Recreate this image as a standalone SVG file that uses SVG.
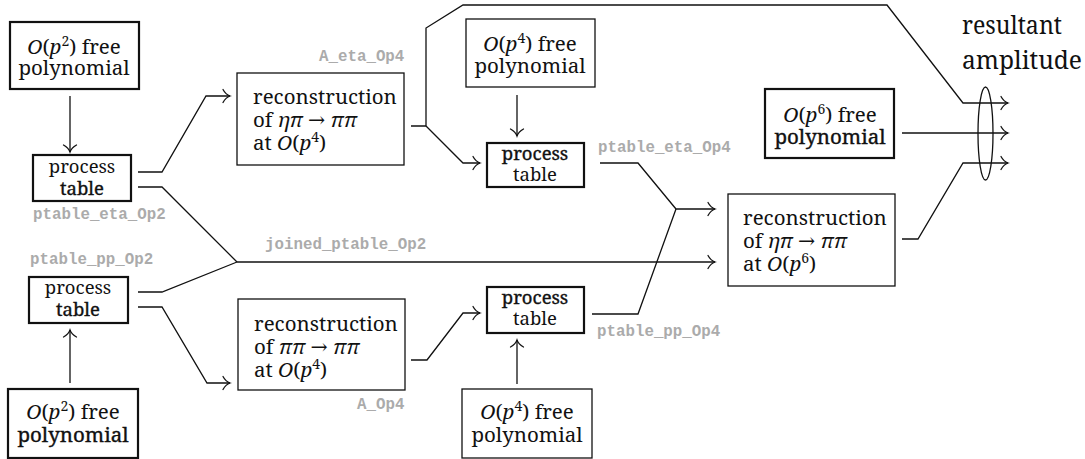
<svg xmlns="http://www.w3.org/2000/svg" width="1085" height="459" viewBox="0 0 1085 459">
  <style>
    .box { fill: #fff; stroke: #111; stroke-width: 1.3; }
    .box.thick { stroke-width: 2.2; }
    .t { font-family: 'Noto Serif', 'DejaVu Serif', serif; font-size: 20.5px; fill: #111; }
    .pt { font-size: 18.5px; }
    .c { text-anchor: middle; }
    .i { font-style: italic; }
    .sup { font-size: 14px; }
    .heavy { stroke: #111; stroke-width: 0.35; }
    .big { font-size: 25px; }
    .lbl { font-family: 'Liberation Mono', 'Courier New', monospace; font-weight: bold; font-size: 15.8px; fill: #ababab; }
    .wire { fill: none; stroke: #111; stroke-width: 1.3; }
  </style>
  <defs>
    <marker id="to" markerUnits="userSpaceOnUse" viewBox="-10 -8 12 16" refX="0" refY="0" markerWidth="12" markerHeight="16" orient="auto" overflow="visible">
      <path d="M -7 -6.5 C -5 -2.8 -2 -0.7 0 0 C -2 0.7 -5 2.8 -7 6.5" fill="none" stroke="#111" stroke-width="1.3" stroke-linecap="round"/>
    </marker>
  </defs>

  <rect width="1085" height="459" fill="#fff"/>

  <!-- connectors -->
  <g id="connectors" class="wire">
    <path d="M 70 96 L 70 152" marker-end="url(#to)"/>
    <path d="M 70 383 L 70 330" marker-end="url(#to)"/>
    <path d="M 138 172 L 162 172 L 206 96 L 230 96" marker-end="url(#to)"/>
    <path d="M 138 187 L 162 187 L 237 262"/>
    <path d="M 138 292 L 162 292 L 237 262"/>
    <path d="M 237 262 L 715 262" marker-end="url(#to)"/>
    <path d="M 138 307 L 162 307 L 207 383 L 230 383" marker-end="url(#to)"/>
    <path d="M 411 126 L 426 126 L 426 28 L 463 5 L 887 5 L 963 103 L 1008 103" marker-end="url(#to)"/>
    <path d="M 426 126 L 463 163 L 480 163" marker-end="url(#to)"/>
    <path d="M 517 95 L 517 136" marker-end="url(#to)"/>
    <path d="M 517 384 L 517 340" marker-end="url(#to)"/>
    <path d="M 411 360 L 427 360 L 463 313 L 480 313" marker-end="url(#to)"/>
    <path d="M 600 163 L 638 163 L 676 209 L 715 209" marker-end="url(#to)"/>
    <path d="M 592 314 L 638 314 L 676 209"/>
    <path d="M 902 133 L 1008 133" marker-end="url(#to)"/>
    <path d="M 902 239 L 918 239 L 963 163 L 1008 163" marker-end="url(#to)"/>
    <ellipse cx="985.5" cy="133.5" rx="7.5" ry="46.5"/>
  </g>

  <!-- O(p^2) polynomial, top -->
  <g id="poly2-top">
    <rect class="box thick" x="10" y="22" width="129" height="67"/>
    <text class="t c" x="74" y="54"><tspan class="i">O</tspan>(<tspan class="i">p</tspan><tspan class="sup" dy="-8">2</tspan><tspan dy="8">) free</tspan></text>
    <text class="t c" x="74" y="75">polynomial</text>
  </g>

  <!-- process table for eta pi, O(p^2) -->
  <g id="ptable-eta-op2">
    <rect class="box thick" x="33" y="155" width="98" height="46"/>
    <text class="t pt c" x="82" y="173">process</text>
    <text class="t pt c heavy" x="82" y="195">table</text>
    <text class="lbl" x="33" y="219">ptable_eta_Op2</text>
  </g>

  <!-- process table for pi pi, O(p^2) -->
  <g id="ptable-pp-op2">
    <text class="lbl" x="30" y="264">ptable_pp_Op2</text>
    <rect class="box thick" x="29" y="277" width="99" height="46"/>
    <text class="t pt c" x="78" y="294">process</text>
    <text class="t pt c heavy" x="78" y="316">table</text>
  </g>

  <!-- O(p^2) polynomial, bottom -->
  <g id="poly2-bottom">
    <rect class="box thick" x="8" y="389" width="130" height="69"/>
    <text class="t c" x="73" y="419"><tspan class="i">O</tspan>(<tspan class="i">p</tspan><tspan class="sup" dy="-8">2</tspan><tspan dy="8">) free</tspan></text>
    <text class="t c heavy" x="73" y="442">polynomial</text>
  </g>

  <!-- reconstruction eta pi -> pi pi at O(p^4) -->
  <g id="recon-eta-op4">
    <text class="lbl" x="319" y="61">A_eta_Op4</text>
    <rect class="box" x="237" y="73" width="167" height="92"/>
    <text class="t" x="253" y="104">reconstruction</text>
    <text class="t" x="253" y="127">of <tspan class="i">ηπ</tspan> → <tspan class="i">ππ</tspan></text>
    <text class="t" x="253" y="150">at <tspan class="i">O</tspan>(<tspan class="i">p</tspan><tspan class="sup" dy="-8">4</tspan><tspan dy="8">)</tspan></text>
  </g>

  <!-- joined table label -->
  <g id="joined-ptable-op2">
    <text class="lbl" x="265" y="249">joined_ptable_Op2</text>
  </g>

  <!-- reconstruction pi pi -> pi pi at O(p^4) -->
  <g id="recon-pp-op4">
    <rect class="box" x="238" y="299" width="167" height="91"/>
    <text class="t" x="254" y="331">reconstruction</text>
    <text class="t" x="254" y="354">of <tspan class="i">ππ</tspan> → <tspan class="i">ππ</tspan></text>
    <text class="t" x="254" y="377">at <tspan class="i">O</tspan>(<tspan class="i">p</tspan><tspan class="sup" dy="-8">4</tspan><tspan dy="8">)</tspan></text>
    <text class="lbl" x="357" y="409">A_Op4</text>
  </g>

  <!-- O(p^4) polynomial, top -->
  <g id="poly4-top">
    <rect class="box" x="466" y="19" width="129" height="68"/>
    <text class="t c" x="530" y="51"><tspan class="i">O</tspan>(<tspan class="i">p</tspan><tspan class="sup" dy="-8">4</tspan><tspan dy="8">) free</tspan></text>
    <text class="t c" x="530" y="73">polynomial</text>
  </g>

  <!-- process table for eta pi, O(p^4) -->
  <g id="ptable-eta-op4">
    <rect class="box thick" x="487" y="143" width="97" height="44"/>
    <text class="t pt c heavy" x="535" y="160">process</text>
    <text class="t pt c" x="535" y="181">table</text>
    <text class="lbl" x="598" y="152">ptable_eta_Op4</text>
  </g>

  <!-- process table for pi pi, O(p^4) -->
  <g id="ptable-pp-op4">
    <rect class="box thick" x="487" y="287" width="97" height="46"/>
    <text class="t pt c heavy" x="535" y="304">process</text>
    <text class="t pt c" x="535" y="325">table</text>
    <text class="lbl" x="597" y="336">ptable_pp_Op4</text>
  </g>

  <!-- O(p^4) polynomial, bottom -->
  <g id="poly4-bottom">
    <rect class="box" x="462" y="389" width="130" height="69"/>
    <text class="t c" x="527" y="419"><tspan class="i">O</tspan>(<tspan class="i">p</tspan><tspan class="sup" dy="-8">4</tspan><tspan dy="8">) free</tspan></text>
    <text class="t c" x="527" y="442">polynomial</text>
  </g>

  <!-- O(p^6) polynomial -->
  <g id="poly6">
    <rect class="box thick" x="765" y="89" width="129" height="69"/>
    <text class="t c" x="830" y="122"><tspan class="i">O</tspan>(<tspan class="i">p</tspan><tspan class="sup" dy="-8">6</tspan><tspan dy="8">) free</tspan></text>
    <text class="t c heavy" x="830" y="144">polynomial</text>
  </g>

  <!-- reconstruction eta pi -> pi pi at O(p^6) -->
  <g id="recon-eta-op6">
    <rect class="box" x="728" y="194" width="167" height="92"/>
    <text class="t" x="743" y="225">reconstruction</text>
    <text class="t" x="743" y="248">of <tspan class="i">ηπ</tspan> → <tspan class="i">ππ</tspan></text>
    <text class="t" x="743" y="271">at <tspan class="i">O</tspan>(<tspan class="i">p</tspan><tspan class="sup" dy="-8">6</tspan><tspan dy="8">)</tspan></text>
  </g>

  <!-- combined output -->
  <g id="resultant">
    <text class="t big" x="962" y="34" textLength="100" lengthAdjust="spacingAndGlyphs">resultant</text>
    <text class="t big" x="962" y="69" textLength="120" lengthAdjust="spacingAndGlyphs">amplitude</text>
  </g>
</svg>
